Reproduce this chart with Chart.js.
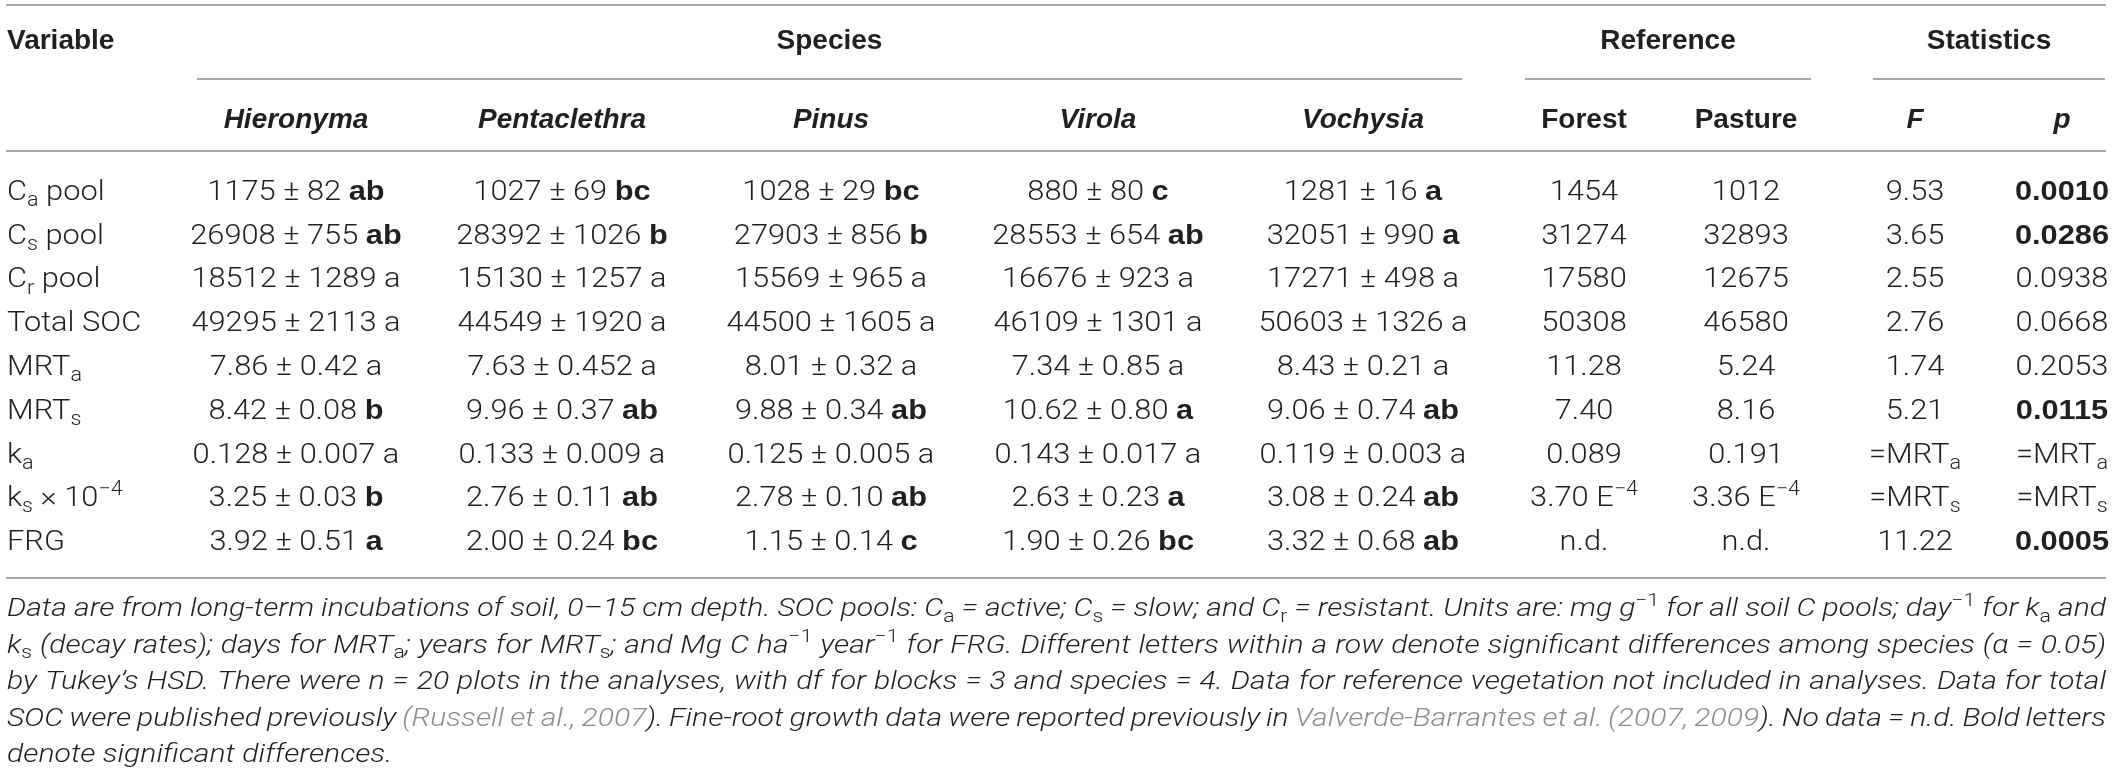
<!DOCTYPE html>
<html>
<head>
<meta charset="utf-8">
<script src="https://cdn.jsdelivr.net/npm/chart.js@4.4.1/dist/chart.umd.min.js"></script>
<style>
  html, body { margin: 0; background: #fff; }
  canvas { display: block; }
</style>
</head>
<body>
<canvas id="soilTable" width="2119" height="780"></canvas>
<script>
// rows of the table (markup: _{} sub, ^{} sup, *{} bold, ~{} link colour)
var variables = ["C_{a} pool", "C_{s} pool", "C_{r} pool", "Total SOC", "MRT_{a}", "MRT_{s}", "k_{a}", "k_{s} × 10^{−4}", "FRG"];
var species = ["Hieronyma", "Pentaclethra", "Pinus", "Virola", "Vochysia"];
var referenceSites = ["Forest", "Pasture"];
var statNames = ["F", "p"];

var hieronymaMean = ["1175", "26908", "18512", "49295", "7.86", "8.42", "0.128", "3.25", "3.92"];
var hieronymaSE = ["82", "755", "1289", "2113", "0.42", "0.08", "0.007", "0.03", "0.51"];
var hieronymaLetters = ["ab", "ab", "a", "a", "a", "b", "a", "b", "a"];

var pentaclethraMean = ["1027", "28392", "15130", "44549", "7.63", "9.96", "0.133", "2.76", "2.00"];
var pentaclethraSE = ["69", "1026", "1257", "1920", "0.452", "0.37", "0.009", "0.11", "0.24"];
var pentaclethraLetters = ["bc", "b", "a", "a", "a", "ab", "a", "ab", "bc"];

var pinusMean = ["1028", "27903", "15569", "44500", "8.01", "9.88", "0.125", "2.78", "1.15"];
var pinusSE = ["29", "856", "965", "1605", "0.32", "0.34", "0.005", "0.10", "0.14"];
var pinusLetters = ["bc", "b", "a", "a", "a", "ab", "a", "ab", "c"];

var virolaMean = ["880", "28553", "16676", "46109", "7.34", "10.62", "0.143", "2.63", "1.90"];
var virolaSE = ["80", "654", "923", "1301", "0.85", "0.80", "0.017", "0.23", "0.26"];
var virolaLetters = ["c", "ab", "a", "a", "a", "a", "a", "a", "bc"];

var vochysiaMean = ["1281", "32051", "17271", "50603", "8.43", "9.06", "0.119", "3.08", "3.32"];
var vochysiaSE = ["16", "990", "498", "1326", "0.21", "0.74", "0.003", "0.24", "0.68"];
var vochysiaLetters = ["a", "a", "a", "a", "a", "ab", "a", "ab", "ab"];

var forestValues = ["1454", "31274", "17580", "50308", "11.28", "7.40", "0.089", "3.70 E^{−4}", "n.d."];
var pastureValues = ["1012", "32893", "12675", "46580", "5.24", "8.16", "0.191", "3.36 E^{−4}", "n.d."];
var fValues = ["9.53", "3.65", "2.55", "2.76", "1.74", "5.21", "=MRT_{a}", "=MRT_{s}", "11.22"];
var pValues = ["0.0010", "0.0286", "0.0938", "0.0668", "0.2053", "0.0115", "=MRT_{a}", "=MRT_{s}", "0.0005"];
var boldLetters = [true, true, false, false, false, true, false, true, true];

var footnote = [
  "Data are from long-term incubations of soil, 0–15 cm depth. SOC pools: C_{a} = active; C_{s} = slow; and C_{r} = resistant. Units are: mg g^{−1} for all soil C pools; day^{−1} for k_{a} and",
  "k_{s} (decay rates); days for MRT_{a}; years for MRT_{s}; and Mg C ha^{−1} year^{−1} for FRG. Different letters within a row denote significant differences among species (α = 0.05)",
  "by Tukey’s HSD. There were n = 20 plots in the analyses, with df for blocks = 3 and species = 4. Data for reference vegetation not included in analyses. Data for total",
  "SOC were published previously ~{(Russell et al., 2007}). Fine-root growth data were reported previously in ~{Valverde-Barrantes et al. (2007, 2009}). No data = n.d. Bold letters",
  "denote significant differences."
];

// layout
var W = 2119, H = 780;
var INK = "#231f20", RULE = "#8a8a8a", LINK = "#8c8c8c";
var BODY = "Roboto", HEAD = "'Liberation Sans', Arial, sans-serif";
var colPos = [7, 296, 562, 831, 1098, 1363, 1584, 1746, 1915, 2062];
var groups = [
  { title: "Species", span: [197, 1462] },
  { title: "Reference", span: [1525, 1811] },
  { title: "Statistics", span: [1873, 2105] }
];
var tableLeft = 6, tableRight = 2106;
var bodyStyle = { size: 28, family: BODY, weight: 300, style: "normal", color: INK };
var headStyle = { size: 28, family: HEAD, weight: 700, style: "normal", color: INK };
var noteStyle = { size: 25, family: BODY, weight: 300, style: "italic", color: INK };
var bodyStretch = 1.1;

function segsOf(str, base) {
  var out = [], re = /([_^*~])\{([^}]*)\}/g, last = 0, m;
  while ((m = re.exec(str))) {
    if (m.index > last) out.push(Object.assign({}, base, { t: str.slice(last, m.index) }));
    var seg = Object.assign({}, base, { t: m[2] });
    if (m[1] === "_") { seg.pos = "sub"; seg.style = "normal"; }
    if (m[1] === "^") { seg.pos = "sup"; seg.style = "normal"; }
    if (m[1] === "*") { seg.weight = 700; seg.family = HEAD; }
    if (m[1] === "~") seg.color = LINK;
    out.push(seg);
    last = re.lastIndex;
  }
  if (last < str.length) out.push(Object.assign({}, base, { t: str.slice(last) }));
  return out;
}
function fontOf(s) {
  var sz = s.pos ? s.size * 0.7 : s.size;
  return s.style + " " + s.weight + " " + sz + "px " + s.family;
}
function shiftOf(s) {
  if (s.pos === "sub") return s.size * 0.22;
  if (s.pos === "sup") return -s.size * 0.42;
  return 0;
}
function drawRich(ctx, str, x, y, base, align, sx) {
  var segs = segsOf(str, base), total = 0;
  segs.forEach(function (s) { ctx.font = fontOf(s); s.w = ctx.measureText(s.t).width; total += s.w; });
  ctx.save();
  ctx.translate(x, y);
  ctx.scale(sx || 1, 1);
  var cx = align === "center" ? -total / 2 : 0;
  segs.forEach(function (s) {
    ctx.font = fontOf(s);
    ctx.fillStyle = s.color;
    ctx.fillText(s.t, cx, shiftOf(s));
    cx += s.w;
  });
  ctx.restore();
}
function tokensOf(ctx, str, base) {
  var toks = [];
  segsOf(str, base).forEach(function (s) {
    s.t.split(/( )/).forEach(function (t) { if (t) toks.push(Object.assign({}, s, { t: t })); });
  });
  toks.natural = 0;
  toks.spaces = 0;
  toks.forEach(function (t) {
    ctx.font = fontOf(t); t.w = ctx.measureText(t.t).width; toks.natural += t.w;
    if (t.t === " ") toks.spaces++;
  });
  return toks;
}
function drawJustified(ctx, toks, x0, x1, y, justify, sx) {
  var width = (x1 - x0) / sx;
  var extra = justify && toks.spaces ? (width - toks.natural) / toks.spaces : 0;
  ctx.save();
  ctx.translate(x0, y);
  ctx.scale(sx, 1);
  var cx = 0;
  toks.forEach(function (t) {
    if (t.t === " ") { cx += t.w + extra; return; }
    ctx.font = fontOf(t);
    ctx.fillStyle = t.color;
    ctx.fillText(t.t, cx, shiftOf(t));
    cx += t.w;
  });
  ctx.restore();
}

function speciesCell(mean, se, letter, bold) {
  return mean + " ± " + se + " " + (bold ? "*{" + letter + "}" : letter);
}
var speciesMeans = [hieronymaMean, pentaclethraMean, pinusMean, virolaMean, vochysiaMean];
var speciesSEs = [hieronymaSE, pentaclethraSE, pinusSE, virolaSE, vochysiaSE];
var speciesLetters = [hieronymaLetters, pentaclethraLetters, pinusLetters, virolaLetters, vochysiaLetters];

var columns = [{ head: "Variable", italic: false, align: "left", cells: variables }];
species.forEach(function (name, k) {
  columns.push({
    head: name, italic: true, align: "center",
    cells: speciesMeans[k].map(function (m, i) {
      return speciesCell(m, speciesSEs[k][i], speciesLetters[k][i], boldLetters[i]);
    })
  });
});
columns.push({ head: referenceSites[0], italic: false, align: "center", cells: forestValues });
columns.push({ head: referenceSites[1], italic: false, align: "center", cells: pastureValues });
columns.push({ head: statNames[0], italic: true, align: "center", cells: fValues });
columns.push({
  head: statNames[1], italic: true, align: "center",
  cells: pValues.map(function (v) { return parseFloat(v) < 0.05 ? "*{" + v + "}" : v; })
});

var datasets = columns.map(function (col, ci) {
  return {
    label: col.head,
    data: variables.map(function (v) { return { x: colPos[ci], y: v }; }),
    pointRadius: 0,
    pointHoverRadius: 0,
    showLine: false
  };
});

var tableFrame = {
  id: "tableFrame",
  beforeDraw: function (chart) {
    var ctx = chart.ctx, x = chart.scales.x, area = chart.chartArea;
    ctx.save();
    ctx.fillStyle = "#fff";
    ctx.fillRect(0, 0, chart.width, chart.height);
    ctx.strokeStyle = RULE;
    ctx.lineWidth = 1.5;
    function rule(a, b, y) { ctx.beginPath(); ctx.moveTo(a, y); ctx.lineTo(b, y); ctx.stroke(); }
    rule(tableLeft, tableRight, 5);
    groups.forEach(function (g) { rule(x.getPixelForValue(g.span[0]), x.getPixelForValue(g.span[1]), 79); });
    rule(tableLeft, tableRight, area.top - 17);
    rule(tableLeft, tableRight, area.bottom + 16);
    ctx.textBaseline = "alphabetic";
    drawRich(ctx, columns[0].head, x.getPixelForValue(colPos[0]), 49, headStyle, "left");
    groups.forEach(function (g) {
      drawRich(ctx, g.title, x.getPixelForValue((g.span[0] + g.span[1]) / 2), 49, headStyle, "center");
    });
    columns.forEach(function (col, ci) {
      if (ci === 0) return;
      var st = Object.assign({}, headStyle, { style: col.italic ? "italic" : "normal" });
      drawRich(ctx, col.head, x.getPixelForValue(colPos[ci]), 128, st, "center");
    });
    // footnote: justified lines, glyphs widened so word spacing stays natural
    var x0 = tableLeft + 1, x1 = tableRight;
    var lines = footnote.map(function (l) { return tokensOf(ctx, l, noteStyle); });
    var ratios = lines.slice(0, -1).map(function (t) { return (x1 - x0) / t.natural; });
    var sx = ratios.reduce(function (a, b) { return a + b; }, 0) / ratios.length;
    lines.forEach(function (toks, i) {
      drawJustified(ctx, toks, x0, x1, area.bottom + 54 + i * 36.5, i < lines.length - 1, sx);
    });
    ctx.restore();
  },
  afterDatasetsDraw: function (chart) {
    var ctx = chart.ctx;
    ctx.save();
    ctx.textBaseline = "alphabetic";
    chart.data.datasets.forEach(function (ds, di) {
      var col = columns[di];
      chart.getDatasetMeta(di).data.forEach(function (pt, i) {
        drawRich(ctx, col.cells[i], pt.x, pt.y + 10, bodyStyle, col.align, bodyStretch);
      });
    });
    ctx.restore();
  }
};

new Chart(document.getElementById("soilTable"), {
  type: "scatter",
  data: { datasets: datasets },
  options: {
    responsive: false,
    animation: false,
    events: [],
    layout: { padding: { top: 168, bottom: 218, left: 0, right: 0 } },
    scales: {
      x: { type: "linear", min: 0, max: W, display: false },
      y: { type: "category", labels: variables, offset: true, display: false }
    },
    plugins: { legend: { display: false }, tooltip: { enabled: false } }
  },
  plugins: [tableFrame]
});
</script>
</body>
</html>
